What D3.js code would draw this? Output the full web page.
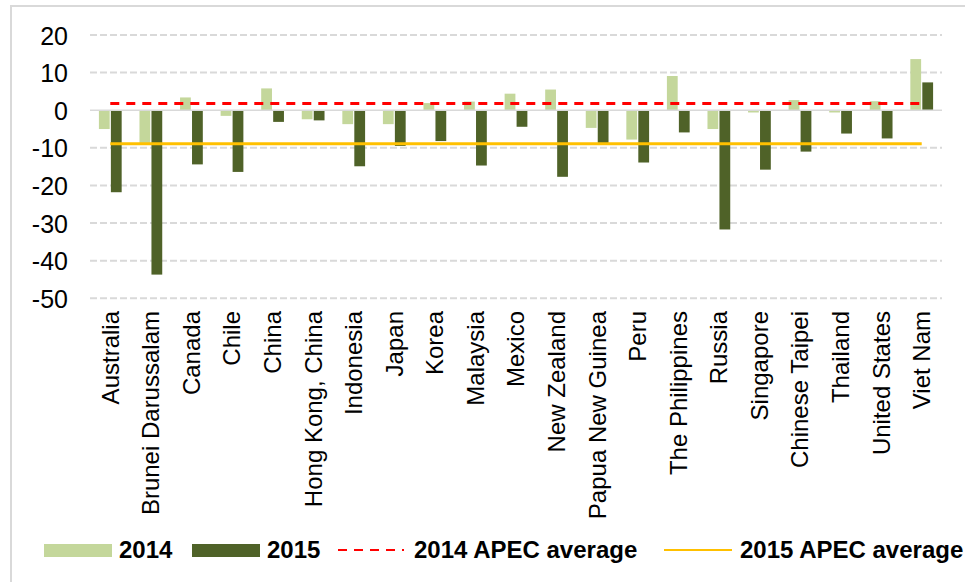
<!DOCTYPE html>
<html>
<head>
<meta charset="utf-8">
<script src="https://cdn.jsdelivr.net/npm/d3@7"></script>
<style>
  body { margin: 0; background: #fff; }
  text { font-family: "Liberation Sans", Arial, sans-serif; fill: #000; }
</style>
</head>
<body>
<div id="chart"></div>
<script>
// categories and values
var economies = ["Australia", "Brunei Darussalam", "Canada", "Chile", "China",
    "Hong Kong, China", "Indonesia", "Japan", "Korea", "Malaysia", "Mexico",
    "New Zealand", "Papua New Guinea", "Peru", "The Philippines", "Russia",
    "Singapore", "Chinese Taipei", "Thailand", "United States", "Viet Nam"];

var values2014 = [-5.0, -8.7, 3.4, -1.5, 5.8, -2.4, -3.7, -3.7, 1.9, 2.3, 4.4,
    5.5, -4.7, -7.8, 9.1, -5.0, -0.6, 2.7, -0.6, 2.4, 13.6];

var values2015 = [-21.8, -43.7, -14.4, -16.4, -3.1, -2.7, -14.9, -9.5, -8.2, -14.7, -4.4,
    -17.7, -8.7, -13.9, -5.9, -31.7, -15.8, -11.0, -6.2, -7.5, 7.4];

var average2014 = 1.8;
var average2015 = -8.9;

var yTicks = [20, 10, 0, -10, -20, -30, -40, -50];

var width = 965,
    height = 582;

var svg = d3.select("#chart")
    .append("svg")
    .attr("width", width)
    .attr("height", height);

// cadre gris (coupé à droite et en bas)
svg.append("rect")
    .attr("x", 11)
    .attr("y", 6)
    .attr("width", 1000)
    .attr("height", 700)
    .attr("fill", "none")
    .attr("stroke", "#d9d9d9")
    .attr("stroke-width", 2);

var x0 = d3.scaleBand()
    .domain(economies)
    .range([90, 942])
    .paddingInner(0.38)
    .paddingOuter(0.19);

var x1 = d3.scaleBand()
    .domain(["2014", "2015"])
    .range([0, x0.bandwidth()])
    .padding(0.1);

var y = d3.scaleLinear()
    .domain([-50, 20])
    .range([298.3, 35]);

// grille
svg.append("g")
    .selectAll("line")
    .data(yTicks.filter(function (d) { return d !== 0; }))
    .enter()
    .append("line")
    .attr("x1", 90)
    .attr("x2", 942)
    .attr("y1", function (d) { return y(d); })
    .attr("y2", function (d) { return y(d); })
    .attr("stroke", "#d9d9d9")
    .attr("stroke-width", 2)
    .attr("stroke-dasharray", "7,3");

// axe des y (tiret simple comme signe moins)
var yAxis = svg.append("g")
    .attr("transform", "translate(68,0)")
    .call(d3.axisLeft(y)
        .tickValues(yTicks)
        .tickFormat(function (d) { return String(d); })
        .tickSize(0)
        .tickPadding(0));
yAxis.select(".domain").remove();
yAxis.selectAll("text")
    .style("font-size", "25px")
    .attr("dy", "0.36em");

// barres
var groups = svg.append("g")
    .selectAll("g")
    .data(economies)
    .enter()
    .append("g")
    .attr("transform", function (d) { return "translate(" + x0(d) + ",0)"; });

groups.append("rect")
    .attr("x", x1("2014"))
    .attr("width", x1.bandwidth())
    .attr("y", function (d, i) { return y(Math.max(0, values2014[i])); })
    .attr("height", function (d, i) { return Math.abs(y(values2014[i]) - y(0)); })
    .attr("fill", "#c4d79b");

groups.append("rect")
    .attr("x", x1("2015"))
    .attr("width", x1.bandwidth())
    .attr("y", function (d, i) { return y(Math.max(0, values2015[i])); })
    .attr("height", function (d, i) { return Math.abs(y(values2015[i]) - y(0)); })
    .attr("fill", "#4f6228");

// ligne du zéro
svg.append("line")
    .attr("x1", 90)
    .attr("x2", 942)
    .attr("y1", y(0))
    .attr("y2", y(0))
    .attr("stroke", "#d9d9d9")
    .attr("stroke-width", 1.5);

// moyennes APEC
var xFirst = x0(economies[0]) + x0.bandwidth() / 2;
var xLast = x0(economies[economies.length - 1]) + x0.bandwidth() / 2;

svg.append("line")
    .attr("x1", xFirst)
    .attr("x2", xLast)
    .attr("y1", y(average2014))
    .attr("y2", y(average2014))
    .attr("stroke", "#ff0000")
    .attr("stroke-width", 3)
    .attr("stroke-dasharray", "9,7");

svg.append("line")
    .attr("x1", xFirst)
    .attr("x2", xLast)
    .attr("y1", y(average2015))
    .attr("y2", y(average2015))
    .attr("stroke", "#ffc000")
    .attr("stroke-width", 3);

// étiquettes des catégories
svg.append("g")
    .selectAll("text")
    .data(economies)
    .enter()
    .append("text")
    .attr("transform", function (d) {
        return "translate(" + (x0(d) + x0.bandwidth() / 2) + ",311) rotate(-90)";
    })
    .attr("text-anchor", "end")
    .attr("dy", "0.35em")
    .style("font-size", "24px")
    .text(function (d) { return d; });

// légende
var legend = svg.append("g").style("font-size", "24px").style("font-weight", "bold");

legend.append("rect").attr("x", 44).attr("y", 544).attr("width", 68).attr("height", 13).attr("fill", "#c4d79b");
legend.append("text").attr("x", 119).attr("y", 558).text("2014");

legend.append("rect").attr("x", 192).attr("y", 544).attr("width", 68).attr("height", 13).attr("fill", "#4f6228");
legend.append("text").attr("x", 267).attr("y", 558).text("2015");

legend.append("line").attr("x1", 338).attr("x2", 404).attr("y1", 550).attr("y2", 550)
    .attr("stroke", "#ff0000").attr("stroke-width", 2).attr("stroke-dasharray", "9,7");
legend.append("text").attr("x", 414).attr("y", 558).text("2014 APEC average");

legend.append("line").attr("x1", 664).attr("x2", 732).attr("y1", 550).attr("y2", 550)
    .attr("stroke", "#ffc000").attr("stroke-width", 2);
legend.append("text").attr("x", 740).attr("y", 558).text("2015 APEC average");
</script>
</body>
</html>
